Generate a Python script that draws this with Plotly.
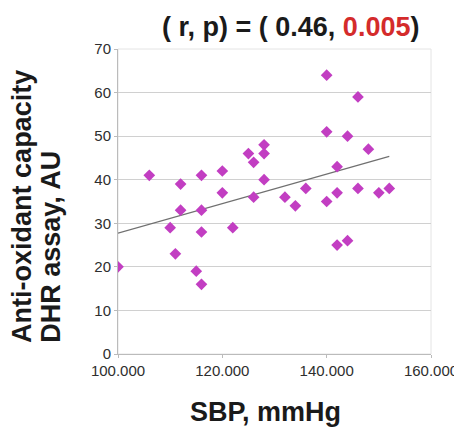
import numpy as np
import plotly.graph_objects as go

sbp = [100, 106, 110, 111, 112, 112, 115, 116, 116, 116, 116, 120, 120, 122, 125, 126, 126,
       128, 128, 128, 132, 134, 136, 140, 140, 140, 142, 142, 142, 144, 144, 146, 146, 148, 150, 152]
dhr = [20, 41, 29, 23, 39, 33, 19, 41, 33, 28, 16, 42, 37, 29, 46, 44, 36,
       48, 46, 40, 36, 34, 38, 64, 51, 35, 43, 37, 25, 50, 26, 59, 38, 47, 37, 38]

x_ticks = [100, 120, 140, 160]
x_tick_labels = ["100.000", "120.000", "140.000", "160.000"]
y_ticks = [0, 10, 20, 30, 40, 50, 60, 70]

slope, intercept = np.polyfit(sbp, dhr, 1)
fit_x = [min(sbp), max(sbp)]
fit_y = [slope * v + intercept for v in fit_x]

FONT = "Liberation Sans, Arial, sans-serif"
DARK = "#1a1a1a"

fig = go.Figure()
fig.add_trace(go.Scatter(x=fit_x, y=fit_y, mode="lines",
                         line=dict(color="#707070", width=1.2), hoverinfo="skip"))
fig.add_trace(go.Scatter(x=sbp, y=dhr, mode="markers",
                         marker=dict(symbol="diamond", size=9, color="#C23EC2",
                                     line=dict(width=0))))

# the page body adds an 8px offset, so margins are reduced accordingly
fig.update_layout(
    width=462, height=431,
    margin=dict(l=110, r=37, t=41, b=85),
    paper_bgcolor="white", plot_bgcolor="white",
    showlegend=False,
    font=dict(family=FONT, color="#333333"),
    title=dict(text="( r, p) = ( 0.46, <span style='color:#D42B2B'>0.005</span>)",
               x=0.612, xanchor="center", y=0.956, yanchor="middle",
               font=dict(size=27, color=DARK, family=FONT, weight="bold")),
)
fig.update_xaxes(range=[100, 160], tickvals=x_ticks, ticktext=x_tick_labels,
                 showgrid=False, zeroline=False,
                 showline=True, linecolor="#BBBBBB", linewidth=1, mirror=False,
                 ticks="outside", ticklen=3, tickcolor="#BBBBBB",
                 tickfont=dict(size=15, color="#2e2e2e"))
fig.update_yaxes(range=[0, 70], tickvals=y_ticks,
                 showgrid=True, gridcolor="#D0D0D0", gridwidth=1, zeroline=False,
                 showline=True, linecolor="#BBBBBB", linewidth=1,
                 ticks="outside", ticklen=3, tickcolor="#BBBBBB",
                 tickfont=dict(size=15, color="#2e2e2e"))
# plot area border (light)
fig.add_shape(type="rect", xref="paper", yref="paper", x0=0, y0=0, x1=1, y1=1,
              line=dict(color="#E4E4E4", width=1), layer="below")

# axis titles
fig.add_annotation(text="<b>Anti-oxidant capacity</b>", textangle=-90,
                   xref="paper", yref="paper", x=-0.305, y=0.03,
                   xanchor="center", yanchor="bottom", showarrow=False,
                   font=dict(size=27, color=DARK, family=FONT))
fig.add_annotation(text="<b>DHR assay, AU</b>", textangle=-90,
                   xref="paper", yref="paper", x=-0.214, y=0.03,
                   xanchor="center", yanchor="bottom", showarrow=False,
                   font=dict(size=27, color=DARK, family=FONT))
fig.add_annotation(text="<b>SBP, mmHg</b>",
                   xref="paper", yref="paper", x=0.472, y=-0.19,
                   xanchor="center", yanchor="middle", showarrow=False,
                   font=dict(size=27, color=DARK, family=FONT))

fig.write_html("out.html")
